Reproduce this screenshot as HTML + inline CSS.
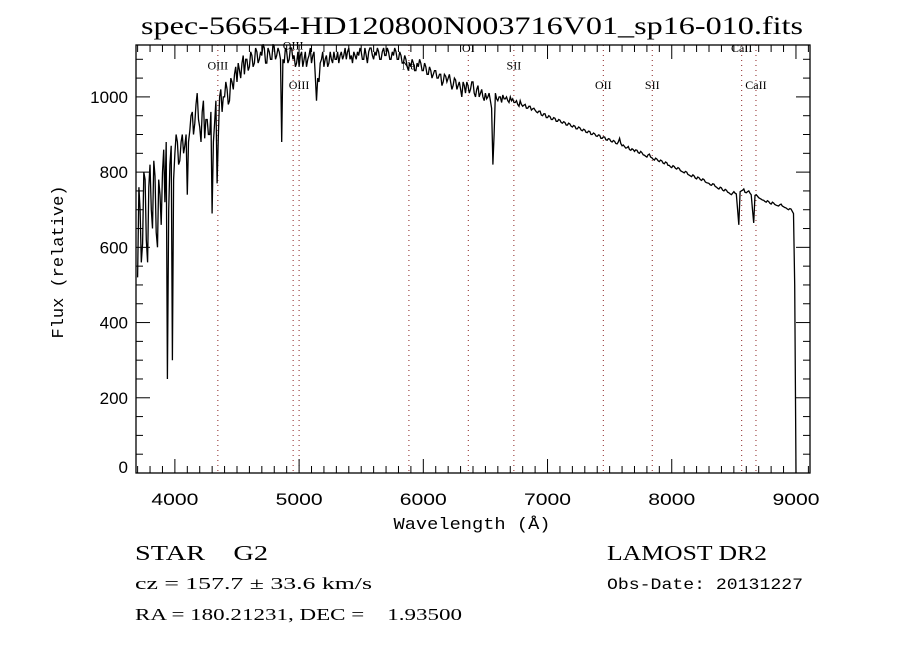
<!DOCTYPE html>
<html><head><meta charset="utf-8"><style>
html,body{margin:0;padding:0;background:#fff;}
svg{display:block;}
text{white-space:pre;}
</style></head><body>
<svg id="chart" width="900" height="650" viewBox="0 0 900 650" xmlns="http://www.w3.org/2000/svg" xml:space="preserve">
<rect width="900" height="650" fill="#fff"/>
<text x="472" y="34" font-family="Liberation Serif, serif" font-size="25" textLength="662" lengthAdjust="spacingAndGlyphs" text-anchor="middle">spec-56654-HD120800N003716V01_sp16-010.fits</text>
<g id="lines"></g>
<g id="spec"></g>
<g id="axes"></g>
<text transform="translate(63,262) rotate(-90)" font-family="Liberation Mono, monospace" font-size="17" text-anchor="middle" textLength="153" lengthAdjust="spacingAndGlyphs">Flux (relative)</text>
<text x="472" y="529" font-family="Liberation Mono, monospace" font-size="17" text-anchor="middle" textLength="157" lengthAdjust="spacingAndGlyphs">Wavelength (Å)</text>
<text x="135" y="560" font-family="Liberation Serif, serif" font-size="21" textLength="133" lengthAdjust="spacingAndGlyphs">STAR    G2</text>
<text x="135" y="589" font-family="Liberation Serif, serif" font-size="17" textLength="237" lengthAdjust="spacingAndGlyphs">cz = 157.7 ± 33.6 km/s</text>
<text x="135" y="620" font-family="Liberation Serif, serif" font-size="17" textLength="327" lengthAdjust="spacingAndGlyphs">RA = 180.21231, DEC =    1.93500</text>
<text x="607" y="560" font-family="Liberation Serif, serif" font-size="21" textLength="160" lengthAdjust="spacingAndGlyphs">LAMOST DR2</text>
<text x="607" y="589" font-family="Liberation Mono, monospace" font-size="16" textLength="196" lengthAdjust="spacingAndGlyphs">Obs-Date: 20131227</text>
</svg>
<script>
const waveStart = 3700;
const waveStep = 10;
const flux = [
520,760,700,560,610,800,780,620,560,760,820,700,650,830,790,640,600,780,740,660,
800,860,720,880,250,700,820,870,300,780,850,900,880,820,830,880,900,850,870,900,
740,880,910,950,960,900,930,980,1010,940,920,880,960,990,890,940,940,900,900,960,
690,880,930,990,770,900,1000,1020,960,1000,1000,1040,1020,980,990,1050,1040,1020,1060,1080,
1040,1090,1070,1050,1090,1110,1060,1100,1100,1070,1080,1120,1110,1080,1090,1130,1120,1090,1100,1120,
1110,1140,1130,1090,1090,1130,1120,1100,1100,1140,1130,1100,1110,1130,1120,1100,880,1100,1090,1130,
1120,1090,1100,1130,1130,1100,1110,1080,1090,1120,1080,1110,1120,1080,1100,1120,1080,1100,1110,1130,
1090,1110,1120,1060,990,1050,1040,1090,1100,1120,1080,1100,1110,1080,1090,1120,1100,1090,1120,1100,
1100,1120,1090,1110,1120,1100,1110,1130,1100,1120,1130,1100,1110,1090,1120,1110,1100,1120,1110,1130,
1120,1100,1100,1130,1110,1090,1120,1130,1130,1110,1100,1120,1110,1130,1120,1100,1100,1120,1130,1110,
1110,1130,1120,1100,1100,1120,1110,1130,1120,1100,1100,1120,1110,1090,1090,1110,1100,1080,1070,1090,
1080,1100,1090,1070,1070,1090,1080,1100,1090,1070,1070,1090,1080,1060,1060,1080,1070,1050,1060,1070,
1070,1050,1050,1060,1060,1030,1040,1060,1055,1040,1050,1060,1040,1020,1030,1050,1045,1020,1030,1040,
1020,1000,1040,1030,1010,1040,1030,1010,1020,1040,1040,1010,1000,1020,1030,1000,1010,1020,1000,990,
1010,995,1000,1010,990,970,820,900,1010,995,990,1000,1000,985,1005,995,995,1000,990,985,
1000,990,995,985,985,990,980,975,990,980,975,978,980,970,970,975,975,965,968,970,
965,960,958,962,962,952,950,955,955,945,945,950,948,940,940,945,943,935,935,940,
938,932,930,934,932,925,925,930,928,922,920,924,922,915,915,920,918,912,910,914,
912,906,905,909,908,900,900,904,902,896,895,899,898,890,890,894,893,886,885,889,
888,882,880,884,882,876,875,880,890,876,870,872,868,864,865,868,860,858,862,860,
855,859,858,852,850,855,852,846,845,842,840,846,848,840,838,834,832,837,835,830,
828,832,830,824,822,827,825,818,818,814,812,817,815,810,808,812,810,804,802,800,
798,802,800,794,792,790,788,793,790,784,782,787,785,780,778,782,780,774,772,771,
770,766,765,769,768,762,760,757,755,760,758,752,750,754,752,747,745,742,740,744,
748,744,742,700,660,748,750,752,755,746,745,748,750,744,740,700,665,738,740,736,
732,730,728,726,725,722,720,724,722,717,715,720,718,714,712,711,710,713,715,710,
708,706,705,702,700,703,702,696,690,500,0
];
const lineWaves = [4346,4952,5000,5884,6362,6729,7449,7843,8563,8678];
const lineNames = ["OIII","OIII","OIII","Na","OI","SII","OII","SII","CaII","CaII"];
const lineLevels = [1084,1137,1032,1084,1130,1084,1032,1032,1130,1032];
const xTicks = [4000,5000,6000,7000,8000,9000];
const yTicks = [0,200,400,600,800,1000];

const X0=136,X1=810,Y0=45,Y1=473;
const xmin=3687,xmax=9113,ymin=0,ymax=1138;
const xs=w=>X0+(w-xmin)/(xmax-xmin)*(X1-X0);
const ys=v=>Y1-(v-ymin)/(ymax-ymin)*(Y1-Y0);
const NS="http://www.w3.org/2000/svg";
function mk(tag,attrs,parent){const e=document.createElementNS(NS,tag);for(const k in attrs)e.setAttribute(k,attrs[k]);parent.appendChild(e);return e;}

const lg=document.getElementById('lines');
lineWaves.forEach((w,i)=>{
  const l=mk('line',{x1:xs(w),x2:xs(w),y1:Y0,y2:Y1,stroke:'#8b2020','stroke-width':1,'stroke-dasharray':'1 4'},lg);
  
  
  const t=mk('text',{x:xs(w),y:ys(lineLevels[i])+4,'font-family':'Liberation Serif, serif','font-size':'12','text-anchor':'middle'},lg);
  t.textContent=lineNames[i];
  
  
});

const sg=document.getElementById('spec');
const pts=flux.map((f,i)=>xs(waveStart+i*waveStep).toFixed(1)+','+ys(f).toFixed(1)).join(' ');
const pl=mk('polyline',{points:pts,fill:'none',stroke:'#000','stroke-width':1.3,'stroke-linejoin':'miter'},sg);



const ag=document.getElementById('axes');
const box=mk('rect',{x:X0,y:Y0,width:X1-X0,height:Y1-Y0,fill:'none',stroke:'#000','stroke-width':1.3},ag);


for(let w=3700;w<=9100;w+=100){
  const x=xs(w), maj=(w%1000===0), L=maj?14:7;
  mk('line',{x1:x,x2:x,y1:Y1,y2:Y1-L,stroke:'#000','stroke-width':1},ag);
  mk('line',{x1:x,x2:x,y1:Y0,y2:Y0+L,stroke:'#000','stroke-width':1},ag);
}
for(let v=0;v<=1100;v+=50){
  const y=ys(v), maj=(v%200===0), L=maj?14:7;
  mk('line',{x1:X0,x2:X0+L,y1:y,y2:y,stroke:'#000','stroke-width':1},ag);
  mk('line',{x1:X1,x2:X1-L,y1:y,y2:y,stroke:'#000','stroke-width':1},ag);
}
xTicks.forEach(w=>{
  const t=mk('text',{x:xs(w),y:Y1+32,'font-family':'Liberation Sans, sans-serif','font-size':'17','text-anchor':'middle',textLength:'47',lengthAdjust:'spacingAndGlyphs'},ag);
  t.textContent=String(w);
  
  
});
yTicks.forEach(v=>{
  const y=Math.min(ys(v)+6,Y1);
  const t=mk('text',{x:X0-8,y:y,'font-family':'Liberation Sans, sans-serif','font-size':'17','text-anchor':'end'},ag);
  t.textContent=String(v);
  
  
});
</script>
</body></html>
